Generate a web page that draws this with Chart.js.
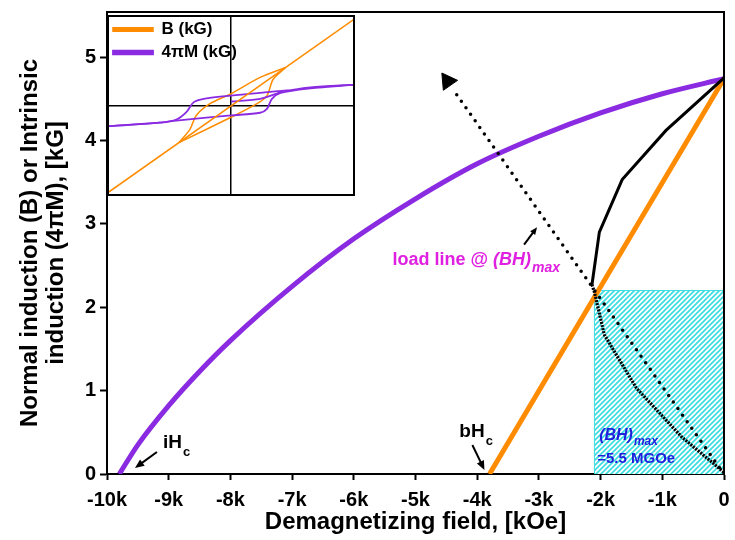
<!DOCTYPE html>
<html>
<head>
<meta charset="utf-8">
<script src="https://cdn.jsdelivr.net/npm/chart.js@4.4.0/dist/chart.umd.min.js"></script>
<style>
    html, body { margin: 0; padding: 0; background: #fff; }
    #wrap { position: relative; width: 735px; height: 540px; }
    #main { position: absolute; left: 0; top: 0; }
    #inset { position: absolute; left: 107px; top: 15px; }
</style>
</head>
<body>
<div id="wrap">
    <canvas id="main" width="735" height="540"></canvas>
    <canvas id="inset" width="248" height="181"></canvas>
</div>
<script>
// demagnetization quadrant, H in Oe, induction in kG
const hIntrinsic = [-9800, -9500, -9000, -8500, -8000, -7000, -6000, -5000, -4000, -3000, -2000, -1000, 0];
const mIntrinsic = [0, 0.35, 0.82, 1.23, 1.6, 2.25, 2.82, 3.3, 3.72, 4.05, 4.33, 4.56, 4.74];
const hNormal = [-3800, 0];
const bNormal = [0, 4.74];
// BH product curve (upper solid part, lower dotted part)
const hProduct = [0, -940, -1650, -2020, -2140];
const bhProduct = [4.75, 4.12, 3.53, 2.9, 2.27];
const hProductLow = [-2140, -2100, -1940, -1420, -680, 0];
const bhProductLow = [2.27, 2.18, 1.67, 1.03, 0.44, 0.02];
// load line and its arrow head
const hLoad = [0, -4400];
const bLoad = [0, 4.62];
const hArrow = [-4480];
const bArrow = [4.71];
// (BH)max rectangle
const hBox = [-2100, -2100, 0, 0];
const bBox = [0, 2.2, 2.2, 0];

// inset: full loops, arbitrary units
const insetH = [-1, 1];
const insetB = [-0.97, 0.96];
const upperH_B = [0.44, 0.235, 0, -0.17, -0.28, -0.33, -0.42];
const upperB = [0.42, 0.31, 0.13, 0.02, -0.11, -0.26, -0.41];
const lowerH_B = [-0.42, 0, 0.21, 0.29, 0.34, 0.44];
const lowerB = [-0.41, -0.13, 0.02, 0.11, 0.29, 0.42];
const upperH_M = [1, 0.64, 0.45, 0, -0.22, -0.3, -0.36, -0.44, -0.575, -1];
const upperM = [0.23, 0.2, 0.166, 0.11, 0.074, 0.037, -0.074, -0.155, -0.19, -0.23];
const lowerH_M = [-1, -0.575, -0.44, 0, 0.235, 0.29, 0.33, 0.4, 0.64, 1];
const lowerM = [-0.23, -0.19, -0.166, -0.11, -0.08, -0.037, 0.074, 0.14, 0.19, 0.23];
const minorH_M = [0, 0.235, 0.42];
const minorM = [0.044, 0.074, 0.155];

const ORANGE = '#ff8c00';
const PURPLE = '#8a2be2';
const MAGENTA = '#e020e0';
const BLUE = '#1f1fdc';
const CYAN = '#3cdde0';

const pts = (xs, ys) => xs.map((x, i) => ({x: x, y: ys[i]}));

function hatch(ctx) {
    const s = 5;
    const c = document.createElement('canvas');
    c.width = c.height = s;
    const g = c.getContext('2d');
    g.fillStyle = '#fff';
    g.fillRect(0, 0, s, s);
    g.strokeStyle = CYAN;
    g.lineWidth = 1.7;
    g.beginPath();
    g.moveTo(0, s); g.lineTo(s, 0);
    g.moveTo(-1, 1); g.lineTo(1, -1);
    g.moveTo(s - 1, s + 1); g.lineTo(s + 1, s - 1);
    g.stroke();
    return ctx.createPattern(c, 'repeat');
}

function subText(ctx, main, sub, x, y, color, font, subFont, dy) {
    ctx.fillStyle = color;
    ctx.textAlign = 'left';
    ctx.textBaseline = 'alphabetic';
    ctx.font = font;
    ctx.fillText(main, x, y);
    const w = ctx.measureText(main).width;
    ctx.font = subFont;
    ctx.fillText(sub, x + w + 1, y + dy);
}

function arrow(ctx, x0, y0, x1, y1, head) {
    const a = Math.atan2(y1 - y0, x1 - x0);
    ctx.strokeStyle = '#000';
    ctx.fillStyle = '#000';
    ctx.lineWidth = 2;
    ctx.beginPath();
    ctx.moveTo(x0, y0);
    ctx.lineTo(x1 - head * 0.7 * Math.cos(a), y1 - head * 0.7 * Math.sin(a));
    ctx.stroke();
    ctx.beginPath();
    ctx.moveTo(x1, y1);
    ctx.lineTo(x1 - head * Math.cos(a - 0.4), y1 - head * Math.sin(a - 0.4));
    ctx.lineTo(x1 - head * Math.cos(a + 0.4), y1 - head * Math.sin(a + 0.4));
    ctx.closePath();
    ctx.fill();
}

const frame = {
    id: 'frame',
    afterDraw(chart) {
        const {ctx, chartArea: a} = chart;
        ctx.save();
        ctx.strokeStyle = '#000';
        ctx.lineWidth = 2;
        ctx.beginPath();
        ctx.moveTo(a.left, a.top);
        ctx.lineTo(a.right, a.top);
        ctx.lineTo(a.right, a.bottom);
        ctx.stroke();
        ctx.restore();
    }
};

const notes = {
    id: 'notes',
    afterDatasetsDraw(chart) {
        const {ctx, scales: {x, y}} = chart;
        const X = v => x.getPixelForValue(v);
        const Y = v => y.getPixelForValue(v);
        ctx.save();
        // coercivities
        subText(ctx, 'iH', 'c', X(-9094), Y(0.31), '#000', 'bold 19px Arial', 'bold 13px Arial', 8);
        arrow(ctx, X(-9191), Y(0.264), X(-9547), Y(0.072), 10);
        subText(ctx, 'bH', 'c', X(-4290), Y(0.444), '#000', 'bold 19px Arial', 'bold 13px Arial', 8);
        arrow(ctx, X(-4078), Y(0.348), X(-3883), Y(0.048), 10);
        // load line label
        ctx.fillStyle = MAGENTA;
        ctx.font = 'bold 18px Arial';
        ctx.textBaseline = 'alphabetic';
        ctx.fillText('load line @ ', X(-5372), Y(2.506));
        const w = ctx.measureText('load line @ ').width;
        subText(ctx, '(BH)', 'max', X(-5372) + w, Y(2.506), MAGENTA, 'italic bold 18px Arial', 'italic bold 14px Arial', 7);
        arrow(ctx, X(-3240), Y(2.75), X(-3030), Y(2.96), 8);
        // (BH)max value
        subText(ctx, '(BH)', 'max', X(-2023), Y(0.408), BLUE, 'italic bold 16px Arial', 'italic bold 12px Arial', 5);
        ctx.fillStyle = BLUE;
        ctx.font = 'bold 15px Arial';
        ctx.fillText('=5.5 MGOe', X(-2055), Y(0.132));
        ctx.restore();
    }
};

const mainCtx = document.getElementById('main').getContext('2d');
const tickFont = {family: 'Arial', size: 20, weight: 'bold'};
const titleFont = {family: 'Arial', size: 24, weight: 'bold', lineHeight: 1.1};

new Chart(mainCtx, {
    type: 'line',
    data: {
        datasets: [
            {data: pts(hArrow, bArrow), showLine: false, pointStyle: 'triangle', pointRadius: 10,
             pointRotation: -35, backgroundColor: '#000', borderColor: '#000', borderWidth: 1},
            {data: pts(hLoad, bLoad), borderColor: '#000', borderWidth: 3.5, borderDash: [0, 8],
             borderCapStyle: 'round', pointRadius: 0},
            {data: pts(hProduct, bhProduct), borderColor: '#000', borderWidth: 3, pointRadius: 0},
            {data: pts(hProductLow, bhProductLow), borderColor: '#000', borderWidth: 3.2, borderDash: [2, 1.2],
             pointRadius: 0},
            {data: pts(hNormal, bNormal), borderColor: ORANGE, borderWidth: 5, pointRadius: 0},
            {data: pts(hIntrinsic, mIntrinsic), borderColor: PURPLE, borderWidth: 5, pointRadius: 0,
             cubicInterpolationMode: 'monotone'},
            {data: pts(hBox, bBox), borderColor: CYAN, borderWidth: 1, backgroundColor: hatch(mainCtx),
             fill: 'origin', pointRadius: 0}
        ]
    },
    options: {
        responsive: false,
        animation: false,
        layout: {padding: {top: 12, right: 10, left: 0, bottom: 0}},
        plugins: {legend: {display: false}, tooltip: {enabled: false}},
        scales: {
            x: {
                type: 'linear',
                min: -10000,
                max: 0,
                afterFit: s => { s.height = 66; s.paddingLeft = 0; s.paddingRight = 0; },
                ticks: {
                    stepSize: 1000, autoSkip: false, maxRotation: 0, color: '#000', font: tickFont, padding: 8,
                    callback: v => v === 0 ? '0' : (v / 1000) + 'k'
                },
                grid: {drawOnChartArea: false, tickColor: '#000', tickLength: 6, tickWidth: 2},
                border: {color: '#000', width: 2},
                title: {display: true, text: 'Demagnetizing field, [kOe]', color: '#000', font: titleFont,
                        padding: {top: 0, bottom: 4}}
            },
            y: {
                type: 'linear',
                min: 0,
                max: 5.54,
                afterFit: s => { s.width = 107; s.paddingTop = 0; s.paddingBottom = 0; },
                afterBuildTicks: s => { s.ticks = s.ticks.filter(t => Number.isInteger(t.value)); },
                ticks: {stepSize: 1, color: '#000', font: tickFont, padding: 4},
                grid: {drawOnChartArea: false, tickColor: '#000', tickLength: 7, tickWidth: 2},
                border: {color: '#000', width: 2},
                title: {display: true, text: ['Normal induction (B) or Intrinsic', 'induction (4\u03c0M), [kG]'],
                        color: '#000', font: titleFont, padding: {top: 17, bottom: 0}}
            }
        }
    },
    plugins: [notes, frame]
});

// inset with the full loops
const insetFrame = {
    id: 'insetFrame',
    beforeDraw(chart) {
        const {ctx, width, height} = chart;
        ctx.save();
        ctx.fillStyle = '#fff';
        ctx.fillRect(0, 0, width, height);
        ctx.restore();
    },
    afterDraw(chart) {
        const {ctx, width, height} = chart;
        ctx.save();
        ctx.strokeStyle = '#000';
        ctx.lineWidth = 2;
        ctx.strokeRect(1, 1, width - 2, height - 2);
        ctx.restore();
    }
};

const zeroGrid = {
    drawTicks: false,
    color: c => c.tick && c.tick.value === 0 ? '#000' : 'rgba(0,0,0,0)',
    lineWidth: 1.5
};

new Chart(document.getElementById('inset'), {
    type: 'line',
    data: {
        datasets: [
            {label: 'B (kG)', data: pts(insetH, insetB), borderColor: ORANGE, backgroundColor: ORANGE,
             borderWidth: 1.5, pointRadius: 0},
            {label: '4\u03c0M (kG)', data: pts(upperH_M, upperM), borderColor: PURPLE, backgroundColor: PURPLE,
             borderWidth: 1.8, pointRadius: 0, tension: 0.3},
            {data: pts(lowerH_M, lowerM), borderColor: PURPLE, borderWidth: 1.8, pointRadius: 0, tension: 0.3},
            {data: pts(minorH_M, minorM), borderColor: PURPLE, borderWidth: 1.8, pointRadius: 0, tension: 0.3},
            {data: pts(upperH_B, upperB), borderColor: ORANGE, borderWidth: 1.5, pointRadius: 0, tension: 0.3},
            {data: pts(lowerH_B, lowerB), borderColor: ORANGE, borderWidth: 1.5, pointRadius: 0, tension: 0.3}
        ]
    },
    options: {
        responsive: false,
        animation: false,
        layout: {padding: 0},
        plugins: {
            tooltip: {enabled: false},
            legend: {
                position: 'chartArea',
                align: 'start',
                labels: {
                    filter: item => !!item.text,
                    boxWidth: 40, boxHeight: 3.5, padding: 6, color: '#000',
                    font: {family: 'Arial', size: 17, weight: 'bold'}
                }
            }
        },
        scales: {
            x: {type: 'linear', min: -1, max: 1, ticks: {display: false, stepSize: 1},
                grid: zeroGrid, border: {display: false}},
            y: {type: 'linear', min: -1, max: 1, ticks: {display: false, stepSize: 1},
                grid: zeroGrid, border: {display: false}}
        }
    },
    plugins: [insetFrame]
});
</script>
</body>
</html>
